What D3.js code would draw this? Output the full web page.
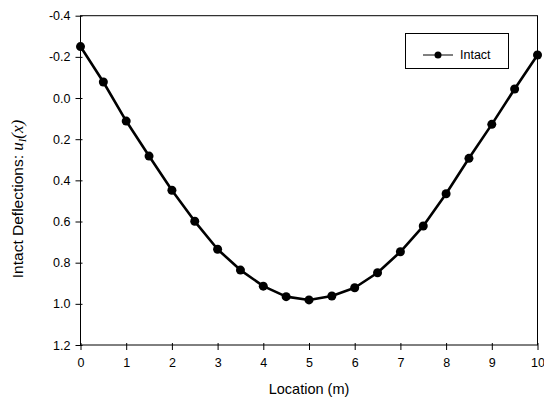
<!DOCTYPE html>
<html><head><meta charset="utf-8">
<script src="https://cdnjs.cloudflare.com/ajax/libs/d3/7.8.5/d3.min.js"></script>
<style>body{margin:0;background:#fff}svg{display:block}text{font-family:"Liberation Sans",Arial,sans-serif;}</style>
</head><body>
<script>
const locations = [0,0.5,1,1.5,2,2.5,3,3.5,4,4.5,5,5.5,6,6.5,7,7.5,8,8.5,9,9.5,10];
const intact = [-0.25,-0.078,0.112,0.282,0.448,0.599,0.735,0.836,0.914,0.965,0.981,0.962,0.922,0.849,0.747,0.622,0.465,0.293,0.128,-0.044,-0.209];
const xTicks = [0,1,2,3,4,5,6,7,8,9,10];
const yTicks = [-0.4,-0.2,0,0.2,0.4,0.6,0.8,1.0,1.2];
const seriesName = "Intact";

const W=544,H=407;
const svg=d3.select("body").append("svg").attr("width",W).attr("height",H);
const L=80.5,R=537.5,T=15.7,B=345;
const x=d3.scaleLinear().domain([0,10]).range([L,R]);
const y=d3.scaleLinear().domain([-0.4,1.2]).range([T,B]);

// frame
svg.append("rect").attr("x",L).attr("y",T).attr("width",R-L).attr("height",B-T)
  .attr("fill","none").attr("stroke","#000").attr("stroke-width",1);

const f1=d3.format(".1f");
const xa=svg.append("g").attr("transform",`translate(0,${B})`)
  .call(d3.axisBottom(x).tickValues(xTicks).tickFormat(d3.format("d")).tickSizeInner(5).tickSizeOuter(0).tickPadding(8));
xa.selectAll(".tick line").attr("y1",-2);
const ya=svg.append("g").attr("transform",`translate(${L},0)`)
  .call(d3.axisLeft(y).tickValues(yTicks).tickFormat(d=>f1(d).replace("\u2212","-")).tickSizeInner(5).tickSizeOuter(0).tickPadding(5));
ya.selectAll(".tick line").attr("x1",2);
[xa,ya].forEach(a=>{a.select(".domain").remove();a.selectAll("text").attr("font-size",12.5).attr("fill","#000").attr("font-family","Liberation Sans, Arial, sans-serif");a.selectAll("line").attr("stroke","#000");});

// line
const line=d3.line().x((d,i)=>x(locations[i])).y(d=>y(d));
svg.append("path").datum(intact).attr("d",line).attr("fill","none").attr("stroke","#000").attr("stroke-width",2.6).attr("stroke-linejoin","round");
svg.selectAll("circle.pt").data(intact).join("circle").attr("class","pt")
  .attr("cx",(d,i)=>x(locations[i])).attr("cy",d=>y(d)).attr("r",4.5).attr("fill","#000");

// legend
const lg=svg.append("g");
lg.append("rect").attr("x",405.5).attr("y",33.5).attr("width",103).attr("height",35).attr("fill","#fff").attr("stroke","#000");
lg.append("line").attr("x1",423).attr("x2",453).attr("y1",55).attr("y2",55).attr("stroke","#000").attr("stroke-width",1);
lg.append("circle").attr("cx",438).attr("cy",55).attr("r",3.5).attr("fill","#000");
lg.append("text").attr("x",460).attr("y",55).attr("dy","0.35em").attr("font-size",12.5).text(seriesName);

// axis titles
svg.append("text").attr("x",(L+R)/2).attr("y",394).attr("text-anchor","middle").attr("font-size",14.5).text("Location (m)");
const yt=svg.append("text").attr("transform",`translate(23,199) rotate(-90)`).attr("text-anchor","middle").attr("font-size",15.5);
yt.append("tspan").text("Intact Deflections: ");
yt.append("tspan").attr("font-family","Liberation Serif, Times New Roman, serif").attr("font-style","italic").attr("font-size",17).text("u");
yt.append("tspan").attr("font-family","Liberation Serif, Times New Roman, serif").attr("font-style","italic").attr("font-size",10.5).attr("dy",3).text("I");
yt.append("tspan").attr("font-family","Liberation Serif, Times New Roman, serif").attr("font-style","italic").attr("font-size",17).attr("dy",-3).text("(x)");
</script>
</body></html>
